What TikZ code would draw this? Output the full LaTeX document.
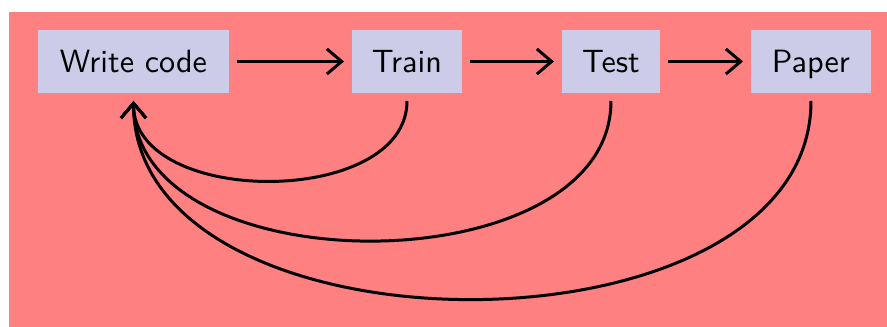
\documentclass[tikz,border=0pt]{standalone}
\usetikzlibrary{arrows.meta}
\definecolor{bgred}{RGB}{255,128,128}
\definecolor{boxblue}{RGB}{204,204,232}
\begin{document}
\begin{tikzpicture}[x=0.3106pt,y=-0.3106pt,
  stagebox/.style={fill=boxblue, inner sep=0pt, outer sep=8*0.3106pt,
    minimum height=63*0.3106pt, text height=6.94pt, text depth=0pt,
    font=\sffamily},
  flow/.style={line width=0.93pt, -{Straight Barb[length=4.6pt,width=7.8pt]}}]
\useasboundingbox (0,0) rectangle (887,327);
\fill[bgred] (9,12) rectangle (887,327);
\node[stagebox, minimum width=191*0.3106pt] (write) at (133.5,61.5) {Write code};
\node[stagebox, minimum width=110*0.3106pt] (train) at (407,61.5) {Train};
\node[stagebox, minimum width=98*0.3106pt] (test) at (611,61.5) {Test};
\node[stagebox, minimum width=120*0.3106pt] (paper) at (811,61.5) {Paper};
\draw[flow] (write) -- (train);
\draw[flow] (train) -- (test);
\draw[flow] (test) -- (paper);
\draw[flow] (train.south) to[out=-90,in=-90] (write.south);
\draw[flow] (test.south) to[out=-90,in=-90] (write.south);
\draw[flow] (paper.south) to[out=-90,in=-90] (write.south);
\end{tikzpicture}
\end{document}
